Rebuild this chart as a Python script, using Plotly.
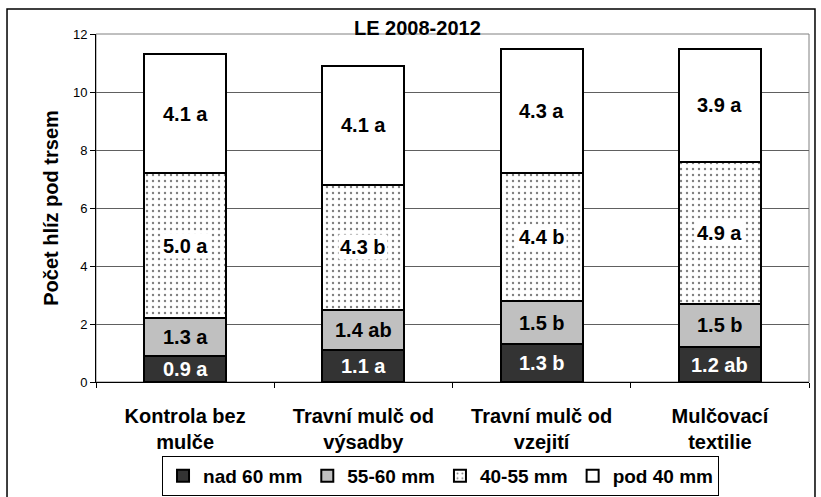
import plotly.graph_objects as go

# ── Data ──────────────────────────────────────────────────────────────────────
categories = ['Kontrola bez<br>mulče', 'Travní mulč od<br>výsadby',
              'Travní mulč od<br>vzejití', 'Mulčovací<br>textilie']

nad_60   = [0.9, 1.1, 1.3, 1.2]
s55_60   = [1.3, 1.4, 1.5, 1.5]
s40_55   = [5.0, 4.3, 4.4, 4.9]
pod_40   = [4.1, 4.1, 4.3, 3.9]

lab_nad_60 = ['0.9 a', '1.1 a', '1.3 b', '1.2 ab']
lab_55_60  = ['1.3 a', '1.4 ab', '1.5 b', '1.5 b']
lab_40_55  = ['5.0 a', '4.3 b', '4.4 b', '4.9 a']
lab_pod_40 = ['4.1 a', '4.1 a', '4.3 a', '3.9 a']

FONT = 'Arial, Liberation Sans, sans-serif'

# ── Bars ──────────────────────────────────────────────────────────────────────
series = [
    ('nad 60 mm', nad_60, lab_nad_60, '#333333', None, 'white', None),
    ('55-60 mm', s55_60, lab_55_60, '#c0c0c0', None, 'black', None),
    ('40-55 mm', s40_55, lab_40_55, 'white', '.', 'black', 'white'),
    ('pod 40 mm', pod_40, lab_pod_40, 'white', None, 'black', 'white'),
]

fig = go.Figure()
base = [0.0] * len(categories)
annotations = []
for name, vals, labs, color, shape, txtcol, boxcol in series:
    marker = dict(color=color, line=dict(color='black', width=2))
    if shape:
        marker['pattern'] = dict(shape=shape, fgcolor='black', bgcolor='white',
                                 size=6, solidity=0.12)
    fig.add_trace(go.Bar(x=categories, y=vals, name=name, marker=marker))
    for c, v, b, t in zip(categories, vals, base, labs):
        annotations.append(dict(
            x=c, y=b + v / 2, text=f'<b>{t}</b>', showarrow=False,
            font=dict(family=FONT, size=20, color=txtcol),
            bgcolor=boxcol, borderpad=1))
    base = [b + v for b, v in zip(base, vals)]

annotations.append(dict(
    x=0.4516, y=1.0, xref='paper', yref='paper', yanchor='bottom', yshift=-7,
    text='<b>LE 2008-2012</b>', showarrow=False,
    font=dict(family=FONT, size=20, color='black')))

fig.update_layout(
    barmode='stack',
    bargap=0.54,
    width=821, height=497,
    # fixed margins: the legend must not shrink the plot area
    margin=dict(l=96, r=12, t=34, b=115, autoexpand=False),
    paper_bgcolor='white', plot_bgcolor='white',
    font=dict(family=FONT, color='black'),
    annotations=annotations,
    showlegend=True,
    legend=dict(orientation='h', x=0.4832, xanchor='center', y=-0.2126,
                yanchor='top', bordercolor='black', borderwidth=1,
                font=dict(family=FONT, size=19, weight='bold'),
                itemwidth=30, tracegroupgap=0, traceorder='normal'),
    shapes=[
        dict(type='rect', xref='paper', yref='paper', x0=0, x1=1, y0=0, y1=1,
             line=dict(color='#808080', width=1), layer='below'),
        dict(type='rect', xref='paper', yref='paper', x0=-0.1248, x1=1.0084,
             y0=-0.36, y1=1.0718, line=dict(color='black', width=1.5)),
    ],
)

fig.update_yaxes(
    range=[0, 12], dtick=2, showgrid=True, gridcolor='#606060', gridwidth=1,
    showline=True, linecolor='black', linewidth=1,
    ticks='outside', ticklen=5, tickcolor='black',
    tickfont=dict(family=FONT, size=13), automargin=False,
    title=dict(text='Počet hlíz pod trsem',
               font=dict(family=FONT, size=20, weight='bold'), standoff=8),
    zeroline=False,
)
fig.update_xaxes(
    showline=True, linecolor='black', linewidth=1,
    ticks='outside', ticklen=5, tickcolor='black', tickson='boundaries',
    ticklabelstandoff=16, automargin=False,
    tickfont=dict(family=FONT, size=20, weight='bold'),
)

# page body has a default 8px margin; drop it so the figure sits at 0,0
fig.write_html('out.html', config={'displayModeBar': False},
               post_script="document.body.style.margin='0';")
